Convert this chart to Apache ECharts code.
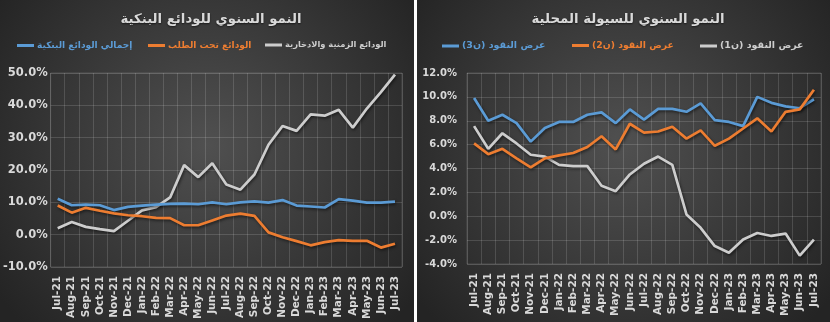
<!DOCTYPE html>
<html>
<head>
<meta charset="utf-8">
<script src="https://cdn.jsdelivr.net/npm/echarts/dist/echarts.min.js"></script>
<style>
  html, body { margin: 0; padding: 0; background: #ffffff; }
  #chart { width: 830px; height: 322px; }
</style>
</head>
<body>
<div id="chart"></div>
<script>
// Months shared by both panels
const months = ['Jul-21','Aug-21','Sep-21','Oct-21','Nov-21','Dec-21','Jan-22','Feb-22','Mar-22','Apr-22',
  'May-22','Jun-22','Jul-22','Aug-22','Sep-22','Oct-22','Nov-22','Dec-22','Jan-23','Feb-23','Mar-23',
  'Apr-23','May-23','Jun-23','Jul-23'];

// Bank deposits, annual growth (%)
const depositsTotal = [11.1, 9.1, 9.3, 9.1, 7.6, 8.6, 9.0, 9.3, 9.5, 9.6, 9.4, 10.0, 9.4, 10.0, 10.3, 9.9,
  10.7, 9.0, 8.7, 8.4, 11.0, 10.5, 9.9, 9.9, 10.2];
const depositsDemand = [9.0, 6.8, 8.3, 7.4, 6.6, 6.0, 5.7, 5.2, 5.1, 2.9, 2.9, 4.4, 5.9, 6.5, 5.8, 0.7,
  -0.8, -2.0, -3.3, -2.3, -1.7, -1.9, -1.9, -4.0, -2.8];
const depositsTimeSavings = [2.0, 3.9, 2.4, 1.7, 1.1, 4.3, 7.5, 8.5, 11.5, 21.5, 17.8, 22.1, 15.5, 13.9,
  18.6, 27.8, 33.6, 32.1, 37.2, 36.8, 38.6, 33.1, 39.0, 44.1, 49.5];

// Domestic liquidity, annual growth (%)
const moneyM3 = [9.9, 8.0, 8.5, 7.8, 6.25, 7.4, 7.9, 7.9, 8.5, 8.7, 7.8, 8.95, 8.1, 9.0, 9.0, 8.75, 9.45,
  8.05, 7.9, 7.55, 10.0, 9.5, 9.2, 9.05, 9.8];
const moneyM2 = [6.1, 5.2, 5.65, 4.85, 4.1, 4.85, 5.1, 5.3, 5.8, 6.7, 5.6, 7.75, 7.0, 7.1, 7.5, 6.5, 7.2,
  5.9, 6.5, 7.35, 8.2, 7.1, 8.75, 8.95, 10.6];
const moneyM1 = [7.55, 5.65, 6.95, 6.1, 5.15, 5.0, 4.3, 4.2, 4.2, 2.55, 2.1, 3.5, 4.4, 5.0, 4.3, 0.15,
  -0.97, -2.5, -3.05, -1.95, -1.4, -1.65, -1.45, -3.3, -1.95];

// Value-axis ranges
const depositsAxis = { min: -10, max: 50, interval: 10 };
const liquidityAxis = { min: -4, max: 12, interval: 2 };

// Titles and series names (RTL marks keep parentheses in place)
const rtl = s => '\u200F' + s + '\u200F';
const titleDeposits = 'النمو السنوي للودائع البنكية';
const titleLiquidity = 'النمو السنوي للسيولة المحلية';
const nameTotal = rtl('إجمالي الودائع البنكية');
const nameDemand = rtl('الودائع تحت الطلب');
const nameTime = rtl('الودائع الزمنية والادخارية');
const nameM3 = rtl('عرض النقود (ن3)');
const nameM2 = rtl('عرض النقود (ن2)');
const nameM1 = rtl('عرض النقود (ن1)');

const BLUE = '#5b9bd5', ORANGE = '#ed7d31', GREY = '#cdcdcd';
const TEXT = '#d9d9d9';
const GRID_LINE = 'rgba(255,255,255,0.14)';
const FONT = "'DejaVu Sans', 'Liberation Sans', sans-serif";

const panelFill = {
  type: 'radial', x: 0.5, y: 0.45, r: 0.8,
  colorStops: [{ offset: 0, color: '#505050' }, { offset: 1, color: '#242424' }]
};

function lineSeries(name, data, color, idx) {
  return {
    name, type: 'line', data, xAxisIndex: idx, yAxisIndex: idx,
    symbol: 'none', z: color === GREY ? 3 : 4,
    lineStyle: { color, width: 2.7, shadowColor: 'rgba(0,0,0,0.55)', shadowBlur: 3, shadowOffsetX: 1, shadowOffsetY: 1.5 },
    itemStyle: { color }
  };
}

function catAxis(idx) {
  return {
    type: 'category', gridIndex: idx, data: months, boundaryGap: true,
    axisLine: { show: false }, axisTick: { show: false },
    axisLabel: { rotate: 90, interval: 0, margin: 9, color: TEXT, fontFamily: FONT, fontSize: 10.5, fontWeight: 'bold' },
    splitLine: { show: true, interval: 0, lineStyle: { color: GRID_LINE, width: 1 } }
  };
}

function valAxis(idx, range, margin, size) {
  return {
    type: 'value', gridIndex: idx, min: range.min, max: range.max, interval: range.interval,
    axisLine: { show: false }, axisTick: { show: false },
    axisLabel: { margin, color: TEXT, fontFamily: FONT, fontSize: size, fontWeight: 'bold',
      formatter: v => v.toFixed(1) + '%' },
    splitLine: { lineStyle: { color: GRID_LINE, width: 1 } }
  };
}

// One legend entry per component so each sits at its own spot
function legendAt(left, name, color, size) {
  return {
    left, top: 41, padding: 0, itemWidth: 17, itemHeight: 3, itemGap: 0, selectedMode: false,
    textStyle: { fontFamily: FONT, fontSize: size, fontWeight: 'bold', color, padding: [0, 0, 0, -2] },
    data: [{ name, icon: 'rect', itemStyle: { color }, textStyle: { color } }]
  };
}

const titleStyle = { color: TEXT, fontFamily: FONT, fontSize: 13.3, fontWeight: 'bold',
  textShadowColor: 'rgba(0,0,0,0.6)', textShadowBlur: 2, textShadowOffsetY: 1 };

const chart = echarts.init(document.getElementById('chart'), null, { renderer: 'canvas' });

chart.setOption({
  backgroundColor: '#ffffff',
  animation: false,
  graphic: [
    { type: 'rect', z: -10, silent: true, shape: { x: 0, y: 0, width: 414, height: 322 }, style: { fill: panelFill } },
    { type: 'rect', z: -10, silent: true, shape: { x: 417, y: 0, width: 413, height: 322 }, style: { fill: panelFill } }
  ],
  title: [
    { text: titleDeposits, left: 206, top: 8, textAlign: 'center', textStyle: titleStyle },
    { text: titleLiquidity, left: 623, top: 8, textAlign: 'center', textStyle: titleStyle }
  ],
  legend: [
    legendAt(17, nameTotal, BLUE, 9),
    legendAt(148, nameDemand, ORANGE, 9),
    legendAt(265, nameTime, GREY, 8.3),
    legendAt(442, nameM3, BLUE, 9.5),
    legendAt(572, nameM2, ORANGE, 9.3),
    legendAt(700, nameM1, GREY, 9.5)
  ],
  grid: [
    { left: 50, top: 73, width: 352, height: 195, show: true, borderColor: GRID_LINE, borderWidth: 1 },
    { left: 467, top: 73, width: 354, height: 191, show: true, borderColor: GRID_LINE, borderWidth: 1 }
  ],
  xAxis: [catAxis(0), catAxis(1)],
  yAxis: [valAxis(0, depositsAxis, 3, 11.5), valAxis(1, liquidityAxis, 10, 10)],
  series: [
    lineSeries(nameTotal, depositsTotal, BLUE, 0),
    lineSeries(nameDemand, depositsDemand, ORANGE, 0),
    lineSeries(nameTime, depositsTimeSavings, GREY, 0),
    lineSeries(nameM3, moneyM3, BLUE, 1),
    lineSeries(nameM2, moneyM2, ORANGE, 1),
    lineSeries(nameM1, moneyM1, GREY, 1)
  ]
});
</script>
</body>
</html>
